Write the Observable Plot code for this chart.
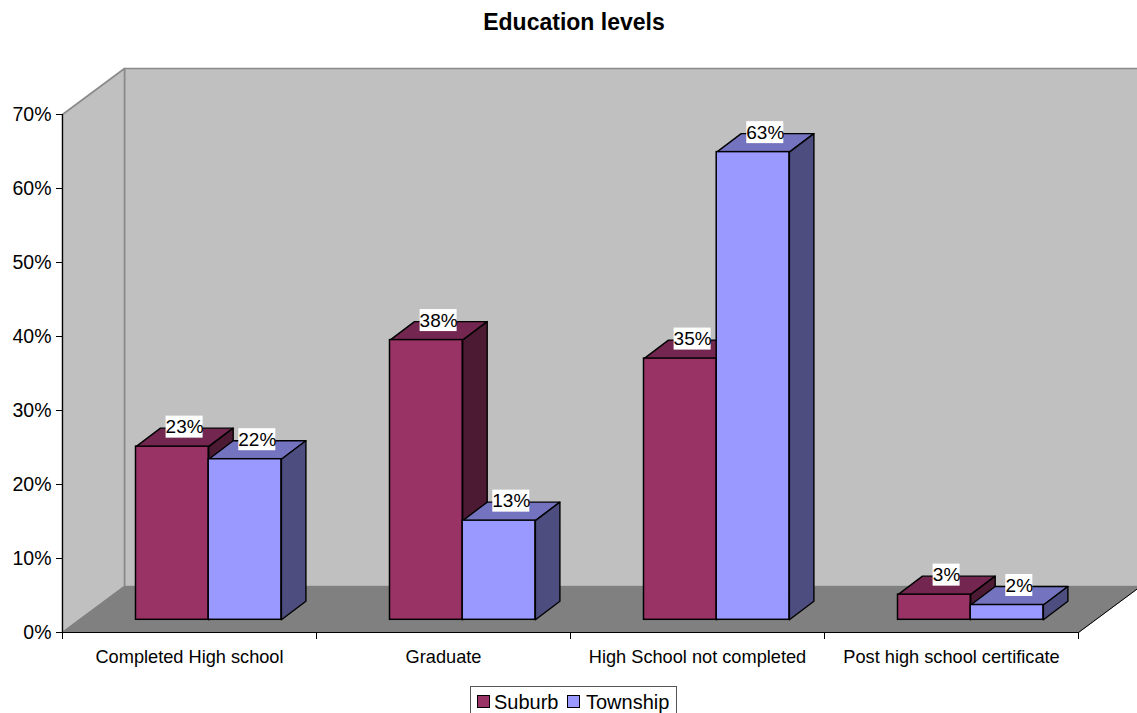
<!DOCTYPE html>
<html>
<head>
<meta charset="utf-8">
<script src="https://cdn.jsdelivr.net/npm/d3@7"></script>
<script src="https://cdn.jsdelivr.net/npm/@observablehq/plot@0.6"></script>
<style>
  html, body { margin: 0; padding: 0; background: #fff; width: 1137px; height: 713px; overflow: hidden; }
  body, svg { font-family: "Liberation Sans", Arial, sans-serif; }
  #title { height: 50px; padding-top: 10px; box-sizing: border-box; margin-left: 11px; text-align: center; font-weight: bold; font-size: 23px; line-height: 24px; color: #000; }
  svg { display: block; }
  #legend { position: absolute; left: 470px; top: 686px; width: 207px; height: 40px; box-sizing: border-box; border: 1px solid #555; font-size: 20px; color: #000; }
  #legend i { position: absolute; top: 8px; width: 13px; height: 13px; box-sizing: border-box; border: 1.5px solid #000; }
  #legend span { position: absolute; top: 3px; line-height: 24px; }
</style>
</head>
<body>
<div id="title">Education levels</div>
<div id="chart"></div>
<div id="legend"></div>
<script>
const categories = ["Completed High school", "Graduate", "High School not completed", "Post high school certificate"];
const suburb = [23.4, 37.8, 35.3, 3.4];
const township = [21.7, 13.4, 63.2, 2.0];
const yTicks = [0, 10, 20, 30, 40, 50, 60, 70];

const series = [
  {name: "Suburb", values: suburb, front: "#993366", top: "#732650", side: "#4d1a33"},
  {name: "Township", values: township, front: "#9999ff", top: "#7373bf", side: "#4d4d80"}
];

// Plot frame in pixels, used to express the oblique offsets in scale units
const frameW = 1016, frameH = 518, catPx = frameW / 4, pctPx = frameH / 70;
const ux = px => px / catPx;
const uy = px => px / pctPx;

// Room depth, bar depth and bar width (x in category units, y in percent)
const roomDx = ux(62), roomDy = uy(46);
const barDx = ux(24.5), barDy = uy(18.5);
const barW = ux(72.7);
const gap = (1 - 2 * barW) / 2;
const insetX = ux(19.2), insetY = uy(12.7);

const xMax = categories.length, yMax = 70;
const poly = pts => pts.map(([x, y]) => ({x, y}));
const face = (pts, fill, stroke, strokeWidth) =>
  Plot.line(poly(pts), {x: "x", y: "y", fill, stroke, strokeWidth, curve: "linear-closed"});

const marks = [
  // Back wall, left wall, floor
  face([[roomDx, roomDy], [xMax + roomDx, roomDy], [xMax + roomDx, yMax + roomDy], [roomDx, yMax + roomDy]], "#c0c0c0", "#8a8a8a", 1.6),
  face([[0, 0], [0, yMax], [roomDx, yMax + roomDy], [roomDx, roomDy]], "#c0c0c0", "#8a8a8a", 1.6),
  face([[0, 0], [xMax, 0], [xMax + roomDx, roomDy], [roomDx, roomDy]], "#808080", "#808080", 1),
  Plot.line(poly([[xMax, 0], [xMax + roomDx, roomDy]]), {x: "x", y: "y", stroke: "#000", strokeWidth: 1})
];

// Each series paints top, side, then front so the second overlaps the first
series.forEach((s, si) => {
  const rows = categories.map((c, i) => {
    const x1 = i + gap + insetX + si * barW;
    return {c, x1, x2: x1 + barW, y1: insetY, y2: insetY + s.values[i], v: s.values[i]};
  });
  rows.forEach(r => {
    marks.push(face([[r.x1, r.y2], [r.x2, r.y2], [r.x2 + barDx, r.y2 + barDy], [r.x1 + barDx, r.y2 + barDy]], s.top, "#000", 1.4));
    marks.push(face([[r.x2, r.y1], [r.x2, r.y2], [r.x2 + barDx, r.y2 + barDy], [r.x2 + barDx, r.y1 + barDy]], s.side, "#000", 1.4));
  });
  marks.push(Plot.rect(rows, {x1: "x1", x2: "x2", y1: "y1", y2: "y2", fill: s.front, stroke: "#000", strokeWidth: 1.5}));
});

// Value labels on white boxes above each bar
series.forEach((s, si) => {
  const rows = categories.map((c, i) => {
    const v = s.values[i];
    const text = Math.round(v) + "%";
    const cx = i + gap + insetX + si * barW + barW / 2 + barDx / 2;
    const cy = insetY + v + uy(19.5);
    const half = ux(text.length === 2 ? 13.5 : 18.5);
    return {text, cx, cy, a: cx - half, b: cx + half, lo: cy - uy(11), hi: cy + uy(11)};
  });
  marks.push(Plot.rect(rows, {x1: "a", x2: "b", y1: "lo", y2: "hi", fill: "#fff"}));
  marks.push(Plot.text(rows, {x: "cx", y: "cy", text: "text", fontSize: 19, fill: "#000"}));
});

marks.push(
  Plot.ruleY([0], {stroke: "#000", strokeWidth: 1.2}),
  Plot.ruleX([0], {stroke: "#000", strokeWidth: 1.2}),
  Plot.axisY({ticks: yTicks, tickFormat: d => d + "%", tickSize: 6, tickPadding: 5, fontSize: 19.5, stroke: "#000", fill: "#000", label: null}),
  Plot.axisX({ticks: d3.range(xMax + 1), tickFormat: () => "", tickSize: 7, stroke: "#000", label: null}),
  Plot.axisX({ticks: categories.map((c, i) => i + 0.5), tickFormat: d => categories[d - 0.5], tickSize: 0, tickPadding: 18, fontSize: 18.2, fill: "#000", label: null})
);

const chart = Plot.plot({
  width: 1137,
  height: 636,
  marginLeft: 62,
  marginRight: 59,
  marginTop: 64,
  marginBottom: 54,
  x: {domain: [0, xMax]},
  y: {domain: [0, yMax]},
  style: {background: "transparent", fontFamily: '"Liberation Sans", Arial, sans-serif'},
  marks
});
document.getElementById("chart").append(chart);

// Series key under the chart
const legend = document.getElementById("legend");
const slots = [[6, 23], [96, 115]];
series.forEach((s, i) => {
  const box = document.createElement("i");
  box.style.left = slots[i][0] + "px";
  box.style.background = s.front;
  const label = document.createElement("span");
  label.style.left = slots[i][1] + "px";
  label.textContent = s.name;
  legend.append(box, label);
});
</script>
</body>
</html>
